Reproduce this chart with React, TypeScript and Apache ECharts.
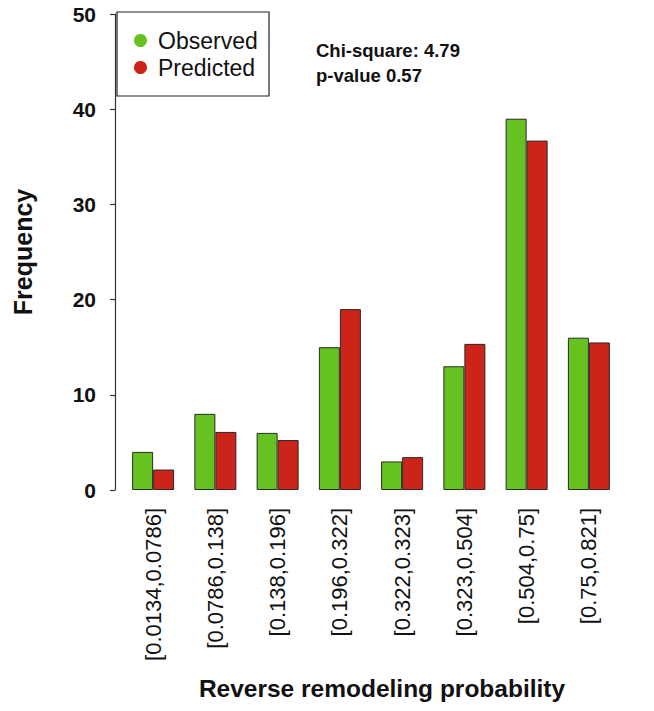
import React, { useEffect, useRef } from "react";
import * as echarts from "echarts";

const categories = [
  "[0.0134,0.0786]",
  "[0.0786,0.138]",
  "[0.138,0.196]",
  "[0.196,0.322]",
  "[0.322,0.323]",
  "[0.323,0.504]",
  "[0.504,0.75]",
  "[0.75,0.821]",
];
const observed = [4, 8, 6, 15, 3, 13, 39, 16];
const predicted = [2.15, 6.1, 5.25, 19.0, 3.45, 15.35, 36.7, 15.5];
const statLines = ["Chi-square: 4.79", "p-value 0.57"];

const FONT = "Liberation Sans, Arial, sans-serif";

export default function App() {
  const ref = useRef<HTMLDivElement>(null);
  useEffect(() => {
    document.body.style.margin = "0";
    const chart = echarts.init(ref.current!, null, { renderer: "svg" });
    chart.setOption({
      animation: false,
      backgroundColor: "#ffffff",
      grid: { left: 122, right: 34, top: 14, bottom: 221, containLabel: false },
      legend: {
        orient: "vertical",
        left: 129,
        top: 24,
        itemGap: 4,
        itemWidth: 13,
        itemHeight: 13,
        icon: "circle",
        itemStyle: { borderWidth: 0 },
        textStyle: { fontSize: 23, fontFamily: FONT, color: "#111", padding: [0, 0, 0, 6] },
        data: ["Observed", "Predicted"],
      },
      graphic: [
        {
          type: "rect",
          shape: { x: 117, y: 12, width: 152, height: 84 },
          style: { fill: "none", stroke: "#222", lineWidth: 1.2 },
          z: 10,
        },
        {
          type: "text",
          x: 316,
          y: 38,
          style: {
            text: statLines.join("\n"),
            font: `bold 18.5px ${FONT}`,
            lineHeight: 25,
            fill: "#111",
          },
        },
      ],
      xAxis: {
        type: "category",
        data: categories,
        axisLine: { show: false },
        axisTick: { show: false },
        axisLabel: {
          rotate: 90,
          margin: 18,
          fontSize: 22,
          fontFamily: FONT,
          color: "#111",
          interval: 0,
        },
        name: "Reverse remodeling probability",
        nameLocation: "middle",
        nameGap: 186,
        nameTextStyle: {
          fontSize: 24.5,
          fontWeight: "bold",
          fontFamily: FONT,
          color: "#111",
          padding: [0, 0, 0, 22],
        },
      },
      yAxis: {
        type: "value",
        min: 0,
        max: 50,
        interval: 10,
        offset: 7,
        axisLine: { show: true, lineStyle: { color: "#333", width: 1.2 } },
        axisTick: { show: true, length: 5, lineStyle: { color: "#333", width: 1.2 } },
        splitLine: { show: false },
        axisLabel: {
          margin: 19,
          fontSize: 21,
          fontWeight: "bold",
          fontFamily: FONT,
          color: "#111",
        },
        name: "Frequency",
        nameLocation: "middle",
        nameGap: 80,
        nameTextStyle: { fontSize: 25, fontWeight: "bold", fontFamily: FONT, color: "#111" },
      },
      series: [
        {
          name: "Observed",
          type: "bar",
          data: observed,
          barWidth: 21,
          barGap: "0%",
          itemStyle: { color: "#66c221", borderColor: "#2a2a2a", borderWidth: 1 },
        },
        {
          name: "Predicted",
          type: "bar",
          data: predicted,
          barWidth: 21,
          barGap: "0%",
          itemStyle: { color: "#cc2419", borderColor: "#2a2a2a", borderWidth: 1 },
        },
      ],
    });
    return () => chart.dispose();
  }, []);
  return <div ref={ref} style={{ width: 654, height: 711 }} />;
}
